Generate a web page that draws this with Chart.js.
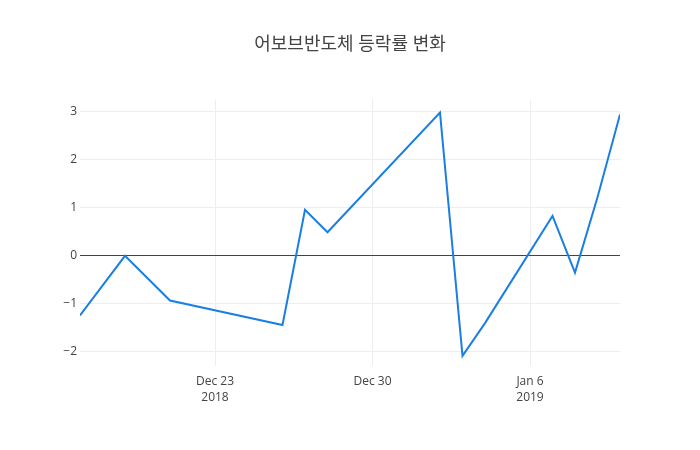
<!DOCTYPE html>
<html>
<head>
<meta charset="utf-8">
<script src="https://cdn.jsdelivr.net/npm/chart.js@4"></script>
<style>
  body { margin: 0; background: #fff; }
  #wrap { width: 700px; height: 450px; }
</style>
</head>
<body>
<div id="wrap"><canvas id="rateChart" width="700" height="450"></canvas></div>
<script>
// data
const dates = ['2018-12-17', '2018-12-19', '2018-12-21', '2018-12-26', '2018-12-27', '2018-12-28',
               '2019-01-02', '2019-01-03', '2019-01-04', '2019-01-07', '2019-01-08', '2019-01-09', '2019-01-10'];
const rates = [-1.24, 0, -0.93, -1.44, 0.96, 0.49, 2.98, -2.08, -1.4, 0.83, -0.35, 1.22, 2.94];
const tickDates = ['2018-12-23', '2018-12-30', '2019-01-06'];
const tickLabels = [['Dec 23', '2018'], ['Dec 30'], ['Jan 6', '2019']];
const yTicks = [-2, -1, 0, 1, 2, 3];

const DAY = 86400000;
const toDay = s => Date.parse(s + 'T00:00:00Z') / DAY;

const points = dates.map((d, i) => ({ x: toDay(d), y: rates[i] }));
const tickDays = tickDates.map(toDay);

const ctx = document.getElementById('rateChart').getContext('2d');
const rateChart = new Chart(ctx, {
  type: 'line',
  data: {
    datasets: [{
      data: points,
      borderColor: '#1a7fe4',
      borderWidth: 2,
      pointRadius: 0,
      tension: 0,
      fill: false
    }]
  },
  options: {
    responsive: false,
    animation: false,
    layout: { padding: 0 },
    plugins: {
      legend: { display: false },
      tooltip: { enabled: false },
      title: {
        display: true,
        text: '어보브반도체 등락률 변화',
        color: '#444',
        font: { family: "'Open Sans', 'Noto Sans CJK KR', sans-serif", size: 18, weight: 'normal' },
        padding: { top: 34, bottom: 44 }
      }
    },
    scales: {
      x: {
        type: 'linear',
        min: toDay(dates[0]),
        max: toDay(dates[dates.length - 1]),
        afterBuildTicks: axis => { axis.ticks = tickDays.map(v => ({ value: v })); },
        afterFit: axis => { axis.height = 83.6; },
        border: { display: false },
        grid: { color: '#eee', drawTicks: false },
        ticks: {
          color: '#444',
          padding: 7,
          maxRotation: 0,
          autoSkip: false,
          font: { family: "'Open Sans', sans-serif", size: 12, lineHeight: 1.35 },
          callback: v => tickLabels[tickDays.indexOf(v)]
        }
      },
      y: {
        min: -2.3,
        max: 3.25,
        afterBuildTicks: axis => { axis.ticks = yTicks.map(v => ({ value: v })); },
        afterFit: axis => { axis.width = 80; },
        border: { display: false },
        grid: {
          drawTicks: false,
          color: c => c.tick && c.tick.value === 0 ? '#444' : '#eee'
        },
        ticks: {
          color: '#444',
          padding: 3,
          font: { family: "'Open Sans', sans-serif", size: 12 },
          callback: v => v < 0 ? '\u2212' + Math.abs(v) : String(v)
        }
      },
      // empty right margin so the title stays centred on the page
      yRight: {
        position: 'right',
        display: true,
        afterFit: axis => { axis.width = 80; },
        border: { display: false },
        grid: { display: false },
        ticks: { display: false }
      }
    }
  }
});
</script>
</body>
</html>
